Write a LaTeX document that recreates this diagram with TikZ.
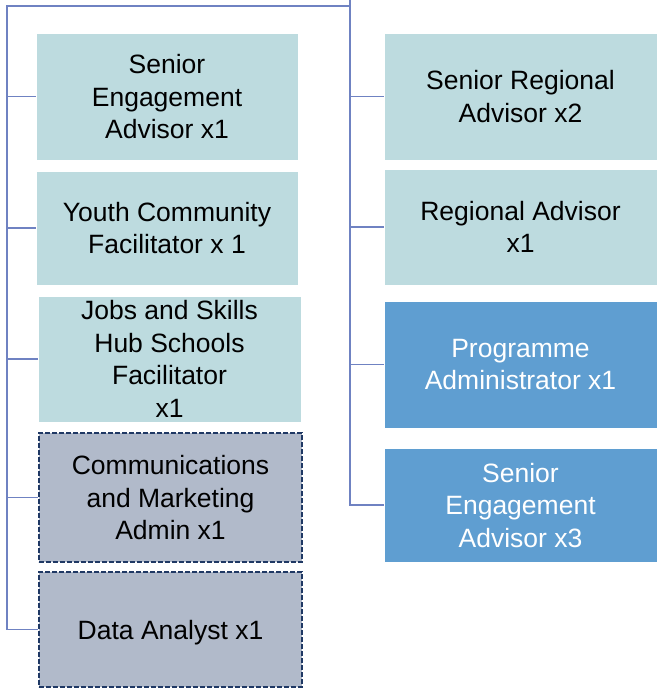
\documentclass[tikz,border=0pt]{standalone}
\usepackage{fontspec}
\setmainfont{Liberation Sans}
\definecolor{tealbox}{HTML}{BDDBDF}
\definecolor{bluebox}{HTML}{5F9ED1}
\definecolor{graybox}{HTML}{B1BACA}
\definecolor{darkedge}{HTML}{1F3864}
\definecolor{connector}{HTML}{6F82C2}
\begin{document}
\begin{tikzpicture}[x=1bp,y=-1bp,
  box/.style={rectangle, inner sep=0pt, align=center, text depth=0pt,
    font=\fontsize{26.5bp}{32.5bp}\selectfont, text=black},
  tealstyle/.style={box, fill=tealbox, draw=white, line width=0.8bp},
  bluestyle/.style={box, fill=bluebox, draw=white, line width=0.8bp, text=white},
  graystyle/.style={box, fill=graybox, draw=darkedge, line width=2bp, dash pattern=on 5bp off 2bp},
  link/.style={draw=connector, line width=1.5bp}]
\useasboundingbox (0,0) rectangle (667,692);

\node[tealstyle, minimum width=262bp, minimum height=127bp] (b1) at (167,96.5) {Senior\\Engagement\\Advisor x1};
\node[tealstyle, minimum width=262bp, minimum height=114bp] (b2) at (167,228) {Youth Community\\Facilitator x 1};
\node[tealstyle, minimum width=263bp, minimum height=126bp] (b3) at (169.5,359) {Jobs and Skills\\Hub Schools\\Facilitator\\x1};
\node[graystyle, minimum width=263bp, minimum height=129bp] (b4) at (170.5,497.5) {Communications\\and Marketing\\Admin x1};
\node[graystyle, minimum width=263bp, minimum height=115bp] (b5) at (170.5,629.5) {Data Analyst x1};

\node[tealstyle, minimum width=273bp, minimum height=127bp] (r1) at (520.5,96.5) {Senior Regional\\Advisor x2};
\node[tealstyle, minimum width=273bp, minimum height=116bp] (r2) at (520.5,227) {Regional Advisor\\x1};
\node[bluestyle, minimum width=273bp, minimum height=127bp] (r3) at (520.5,364.5) {Programme\\Administrator x1};
\node[bluestyle, minimum width=273bp, minimum height=114bp] (r4) at (520.5,505) {Senior\\Engagement\\Advisor x3};

\coordinate (top) at (350,0);
\coordinate (corner) at (350,6);
\coordinate (lefttop) at (7,6);

\draw[link] (top) -- (top |- r4.west) -- (r4.west);
\draw[link] (corner) -- (lefttop) -- (lefttop |- b5.west) -- (b5.west);
\foreach \n in {b1,b2,b3,b4}{\draw[link] (lefttop |- \n.west) -- (\n.west);}
\foreach \n in {r1,r2,r3}{\draw[link] (top |- \n.west) -- (\n.west);}
\end{tikzpicture}
\end{document}
